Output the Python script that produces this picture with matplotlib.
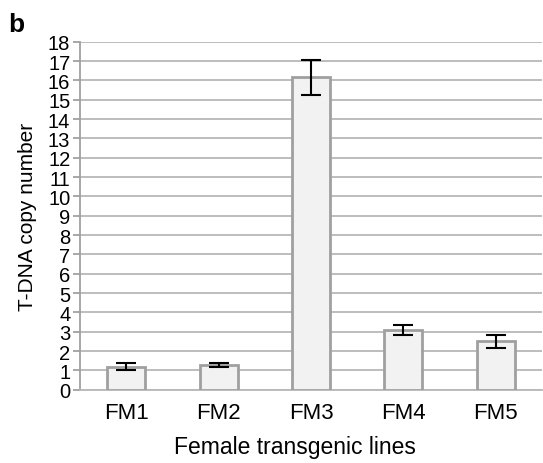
import matplotlib
matplotlib.use("Agg")
import matplotlib.pyplot as plt

plt.rcParams['font.family'] = ['Liberation Sans', 'DejaVu Sans']

# copy number per female line, mean with error
lines = ['FM1', 'FM2', 'FM3', 'FM4', 'FM5']
copy_number = [1.2, 1.28, 16.15, 3.1, 2.5]
copy_err = [0.18, 0.12, 0.92, 0.25, 0.32]

fig = plt.figure(figsize=(5.43, 4.64), dpi=100)
ax = fig.add_axes([80 / 543, 1 - 390.7 / 464, 462 / 543, 348 / 464])

x = range(len(lines))
ax.bar(x, copy_number, width=0.41, color='#f2f2f2', edgecolor='#a0a0a0',
       linewidth=2, zorder=3)
ax.errorbar(x, copy_number, yerr=copy_err, fmt='none', ecolor='black',
            elinewidth=1.5, capsize=7, capthick=1.5, zorder=4)

ax.set_xlim(-0.5, len(lines) - 0.5)
ax.set_ylim(0, 18)
ax.set_yticks(range(0, 19))
ax.set_xticks(list(x))
ax.set_xticklabels(lines, fontsize=16)
ax.tick_params(axis='y', labelsize=14.5, length=5, width=1.3, color='#a0a0a0', pad=2)
ax.tick_params(axis='x', length=0, pad=9)

ax.grid(axis='y', color='#b8b8b8', linewidth=1.3, zorder=0)
ax.set_axisbelow(True)
for side in ['top', 'right']:
    ax.spines[side].set_visible(False)
ax.spines['left'].set_color('#a0a0a0')
ax.spines['left'].set_linewidth(1.3)
ax.spines['bottom'].set_color('#b8b8b8')
ax.spines['bottom'].set_linewidth(1.3)

ax.set_ylabel('T-DNA copy number', fontsize=15)
ax.yaxis.set_label_coords(-43 / 462, 0.5)
ax.set_xlabel('Female transgenic lines', fontsize=16.5)
ax.xaxis.set_label_coords(0.465, -45 / 348)

fig.text(8 / 543, 1 - 32 / 464, 'b', fontsize=19, fontweight='bold')

fig.savefig('out.png', dpi=100)
